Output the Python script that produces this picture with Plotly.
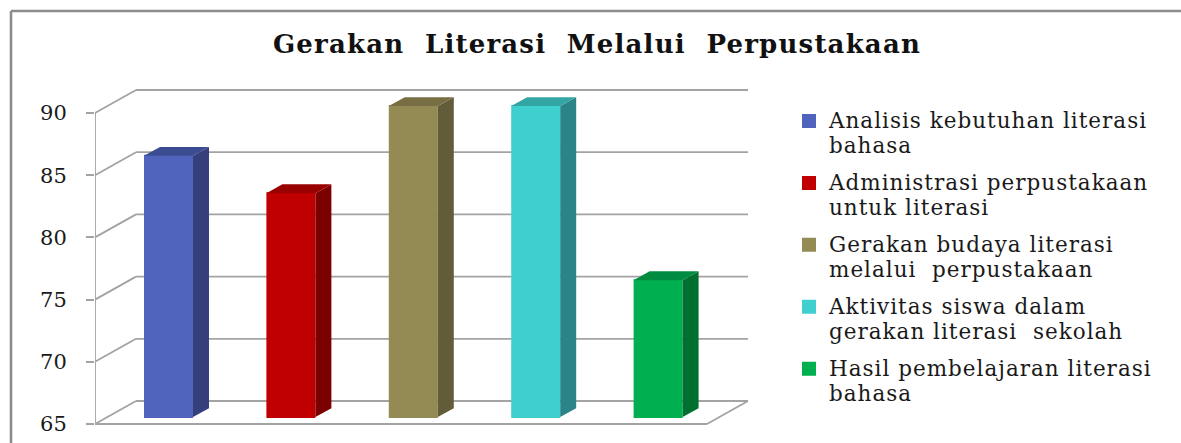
import plotly.graph_objects as go

TITLE = "Gerakan  Literasi  Melalui  Perpustakaan"
categories = [
    "Analisis kebutuhan literasi<br>bahasa",
    "Administrasi perpustakaan<br>untuk literasi",
    "Gerakan budaya literasi<br>melalui  perpustakaan",
    "Aktivitas siswa dalam<br>gerakan literasi  sekolah",
    "Hasil pembelajaran literasi<br>bahasa",
]
values = [86, 83, 90, 90, 76]
front_colors = ["#5064BE", "#C00000", "#948A54", "#40CFCF", "#00B050"]
side_colors = ["#343F7C", "#7C0000", "#635C38", "#2A8488", "#007030"]
top_colors = ["#3C4C90", "#990000", "#776E43", "#33A5A5", "#008C40"]
y_ticks = [65, 70, 75, 80, 85, 90]

# Oblique projection of the fake 3D box, in axis units
W, H = 1181, 443
L, R, T, B = 95, 760, 85, 430      # plot area in pixels
X_SCALE = 122.4                    # px per category
Y_SCALE = 12.44                    # px per value unit
FLOOR_PX = 424                     # pixel of the value 65 on the front axis
DX = 41 / X_SCALE                  # full depth of the box
DY = 23 / Y_SCALE
D0, D1 = 0.30, 0.69                # depth of bar front and back
BAR_W = 47 / X_SCALE
FLOOR = y_ticks[0]
GRID = "#a3a3a3"
FRAME = "#8c8c8c"
INK = "#1a1a1a"
FONT = "DejaVu Serif"


def px(x, y, d=0.0):
    return x + d * DX, y + d * DY


def seg(a, b, color=GRID, width=1.8):
    return dict(type="line", xref="x", yref="y", layer="below",
                x0=a[0], y0=a[1], x1=b[0], y1=b[1],
                line=dict(color=color, width=width))


def styled(text, size, spacing):
    return "<br>".join(
        f'<span style="font-size:{size}px;letter-spacing:{spacing}px">{line}</span>'
        for line in text.split("<br>")
    )


fig = go.Figure()
n = len(values)

for i in range(n):
    xc = i + 0.5
    fig.add_bar(
        x=[px(xc, 0, D0)[0]], y=[values[i] - FLOOR], base=[px(0, FLOOR, D0)[1]],
        width=BAR_W, name=styled(categories[i], 21.5, 1.0), legendgroup=str(i),
        marker=dict(color=front_colors[i], line=dict(color=front_colors[i], width=2)),
        hoverinfo="skip",
    )

for i in range(n):
    xl, xr = i + 0.5 - BAR_W / 2 - 1 / X_SCALE, i + 0.5 + BAR_W / 2 + 1 / X_SCALE
    v = values[i]
    side = [px(xr, FLOOR, D0), px(xr, v, D0), px(xr, v, D1), px(xr, FLOOR, D1)]
    top = [px(xl, v, D0), px(xr, v, D0), px(xr, v, D1), px(xl, v, D1)]
    for pts, col in ((side, side_colors[i]), (top, top_colors[i])):
        fig.add_scatter(
            x=[p[0] for p in pts], y=[p[1] for p in pts], mode="lines",
            fill="toself", fillcolor=col, line=dict(width=0, color=col),
            showlegend=False, hoverinfo="skip", legendgroup=str(i),
        )

shapes = []
for t in y_ticks:
    shapes.append(seg(px(0, t, 0), px(0, t, 1)))
    shapes.append(seg(px(0, t, 1), px(n, t, 1)))
shapes.append(seg(px(0, FLOOR, 0), px(n, FLOOR, 0)))
shapes.append(seg(px(n, FLOOR, 0), px(n, FLOOR, 1)))
shapes.append(seg(px(0, FLOOR, 0), px(0, y_ticks[-1], 0)))
# outer frame of the chart (top and left edges only are in view)
fx = 11
fy = 11
shapes.append(dict(type="line", xref="paper", yref="paper", layer="below",
                   x0=(fx - L) / (R - L), x1=(W - L) / (R - L),
                   y0=(B - fy) / (B - T), y1=(B - fy) / (B - T),
                   line=dict(color=FRAME, width=2.6)))
shapes.append(dict(type="line", xref="paper", yref="paper", layer="below",
                   x0=(fx - L) / (R - L), x1=(fx - L) / (R - L),
                   y0=(B - fy) / (B - T), y1=(B - H) / (B - T),
                   line=dict(color=FRAME, width=2.6)))

fig.update_layout(
    width=W, height=H, margin=dict(l=L, r=W - R, t=T, b=H - B, autoexpand=False),
    paper_bgcolor="white", plot_bgcolor="rgba(0,0,0,0)", barmode="overlay",
    font=dict(family=FONT, color=INK),
    title=dict(text=f'<b><span style="letter-spacing:1.2px">{TITLE}</span></b>',
               x=597 / W, xanchor="center", y=1 - 44 / H, yanchor="middle",
               font=dict(family=FONT, size=26, color="#111111")),
    shapes=shapes,
    xaxis=dict(range=[0, (R - L) / X_SCALE], visible=False, fixedrange=True),
    yaxis=dict(
        range=[FLOOR - (B - FLOOR_PX) / Y_SCALE, FLOOR + (FLOOR_PX - T) / Y_SCALE],
        tickvals=y_ticks, ticks="outside", ticklen=8, tickwidth=1.8, tickcolor=GRID,
        showgrid=False, zeroline=False, showline=False, ticklabelstandoff=15,
        tickfont=dict(family=FONT, size=21, color=INK), fixedrange=True,
    ),
    legend=dict(
        xref="container", yref="paper", x=789 / W, y=(B - 102) / (B - T),
        xanchor="left", yanchor="top", traceorder="grouped", tracegroupgap=9,
        valign="top",
        font=dict(family=FONT, size=19.2, color=INK), bgcolor="rgba(0,0,0,0)",
        itemclick=False, itemdoubleclick=False,
    ),
    showlegend=True,
)

fig.write_html("out.html", config=dict(displayModeBar=False),
               post_script="document.body.style.margin='0';")
